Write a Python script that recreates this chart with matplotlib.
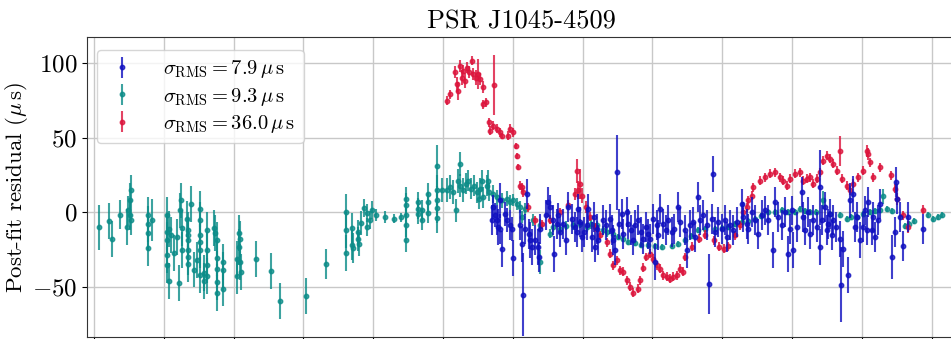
import matplotlib
matplotlib.use("Agg")
import matplotlib.pyplot as plt
import numpy as np

plt.rcParams['font.family'] = 'serif'
plt.rcParams['font.serif'] = ['cmr10']
plt.rcParams['mathtext.fontset'] = 'cm'
plt.rcParams['axes.formatter.use_mathtext'] = True

title = "PSR J1045-4509"
ylabel = r"Post-fit residual ($\mu\,\mathrm{s}$)"
labels = [r"$\sigma_{\rm RMS} = 7.9\,\mu\,\mathrm{s}$",
          r"$\sigma_{\rm RMS} = 9.3\,\mu\,\mathrm{s}$",
          r"$\sigma_{\rm RMS} = 36.0\,\mu\,\mathrm{s}$"]
colors = ['#1010c0', '#0c8c88', '#dc143c']

# ---- teal series (years, residual us, error us)
teal_t = [1994.14, 1994.44, 1994.52, 1994.74, 1994.95, 1994.98, 1995.03, 1995.05, 1995.04, 1995.06,
          1995.56, 1995.56, 1995.56, 1995.56, 1995.65, 1996.10, 1996.10, 1996.10, 1996.10, 1996.10,
          1996.16, 1996.16, 1996.20, 1996.29, 1996.37, 1996.43, 1996.46, 1996.49, 1996.51, 1996.51,
          1996.66, 1996.69, 1996.69, 1996.69, 1996.69, 1996.69, 1996.70, 1996.77, 1996.87, 1996.94,
          1997.04, 1997.04, 1997.04, 1997.04, 1997.04, 1997.04, 1997.15, 1997.15, 1997.25, 1997.25,
          1997.25, 1997.25, 1997.44, 1997.47, 1997.52, 1997.53, 1997.53, 1997.52, 1997.53, 1997.69,
          1997.69, 1997.69, 1998.09, 1998.09, 1998.15, 1998.16, 1998.17, 1998.18, 1998.20, 1998.63,
          1999.07, 1999.34, 2000.08, 2000.64, 2001.23, 2001.23, 2001.23, 2001.40, 2001.40, 2001.42,
          2001.57, 2001.57, 2001.60, 2001.65, 2001.74, 2001.83, 2001.83, 2001.91, 2001.96, 2002.08,
          2002.34, 2002.60, 2002.80, 2002.94, 2002.94, 2002.94, 2002.94, 2002.94, 2003.27, 2003.27,
          2003.27, 2003.41, 2003.41, 2003.56, 2003.56, 2003.57, 2003.82, 2003.82, 2003.82, 2003.82,
          2003.82, 2003.96, 2004.11, 2004.20, 2004.29, 2004.37, 2004.44, 2004.49, 2004.49, 2004.56,
          2004.66, 2004.72, 2004.79, 2004.89, 2004.97, 2005.04, 2005.06, 2005.13, 2005.15, 2005.25,
          2005.30, 2005.33, 2005.44, 2005.54, 2005.68, 2005.83, 2005.92, 2006.01, 2006.11, 2006.21,
          2006.35, 2006.26, 2006.59, 2006.78, 2006.78, 2007.07, 2007.16, 2007.35, 2007.52, 2007.73,
          2007.93, 2008.12, 2008.24, 2008.40, 2008.59, 2008.69, 2008.88, 2009.01, 2009.16, 2009.30,
          2009.50, 2009.67, 2009.87, 2010.07, 2010.27, 2010.56, 2010.73, 2010.93, 2011.11, 2011.31,
          2011.51, 2011.79, 2011.99, 2012.17, 2012.37, 2012.57, 2012.74, 2012.94, 2013.11, 2013.31,
          2013.51, 2013.71, 2013.88, 2014.09, 2014.23, 2014.37, 2014.52, 2014.69, 2014.89, 2015.09,
          2015.38, 2015.57, 2015.69, 2015.85, 2016.03, 2016.23, 2016.38, 2016.52, 2016.62, 2016.71,
          2016.87, 2017.24, 2017.35, 2017.50, 2017.91, 2018.05, 2018.19, 2018.29]
teal_r = [-9.8, -6.0, -17.5, -1.4, -9.8, 1.3, 8.0, 14.7, -2.0, -5.3,
          -2.0, -7.6, -13.8, -23.8, -4.9, -2.0, -13.3, -18.7, -28.7, -34.9,
          -10.9, -46.0, -15.3, -27.0, -16.4, -47.0, 1.3, 8.0, -10.2, -25.3,
          -4.2, -12.0, -18.7, -25.3, -29.8, -34.7, -15.3, 5.8, -38.2, -32.0,
          2.4, -5.3, -15.3, -19.8, -25.3, -42.0, -40.4, -46.0, -12.0, -24.9,
          -34.9, -42.7, -10.2, -13.8, -18.2, -30.2, -37.6, -46.4, -53.8, -33.1,
          -38.7, -50.9, -30.9, -42.7, -23.1, -13.8, -17.6, -33.1, -39.8, -31.3,
          -39.1, -59.1, -56.0, -34.2, 0.2, -12.0, -26.9, -10.2, -22.0, -23.8,
          -13.1, -17.6, -21.3, -7.1, 2.9, -0.4, -9.8, -5.3, 1.8, -2.0,
          -3.1, -4.2, -3.1, 9.1, 4.7, -2.0, -8.7, -18.7, 6.9, 2.4,
          -0.9, 1.3, -4.9, 12.4, 6.9, -0.4, 31.3, 14.7, 8.0, 3.1,
          -3.6, 14.7, 14.7, 16.9, 13.6, 1.3, 21.3, 32.4, 18.0, 14.7,
          19.1, 21.3, 15.8, 18.0, 13.6, 9.1, 15.8, 21.3, 10.2, 18.0,
          21.3, 13.6, 12.4, 10.2, 8.0, 9.1, 6.9, 8.0, 5.8, 3.6,
          2.4, -3.1, -5.3, -8.7, -33.1, -14.2, -9.8, -10.9, -9.0, -8.7,
          -7.6, -9.8, -8.0, -8.7, -12.0, -13.1, -14.2, -16.4, -18.0, -19.5,
          -20.7, -21.5, -22.0, -22.7, -23.0, -22.7, -21.0, -18.7, -15.5, -12.0,
          -11.0, -10.9, -10.5, -9.5, -8.0, -6.4, -5.5, -4.2, -2.5, 0.2,
          0.5, 1.3, 0.5, 0.0, 2.4, 1.0, 0.2, 0.5, 8.0, -1.0,
          -2.0, -4.2, -3.0, -3.1, -1.0, 0.2, 1.0, 1.3, 10.7, 2.4,
          1.0, -9.3, -8.0, -5.8, -1.6, -4.2, -3.1, -2.0]
teal_e = [15, 12, 12, 10, 12, 10, 12, 10, 10, 10,
          12, 12, 12, 12, 14, 12, 12, 12, 12, 12,
          12, 12, 12, 12, 12, 12, 12, 12, 12, 12,
          12, 12, 12, 12, 12, 12, 12, 12, 12, 12,
          12, 12, 12, 12, 12, 12, 12, 12, 12, 12,
          12, 12, 12, 12, 12, 12, 12, 12, 12, 12,
          12, 12, 12, 12, 12, 12, 12, 12, 12, 12,
          12, 12, 12, 10, 12, 12, 12, 10, 10, 10,
          8, 8, 8, 8, 6, 6, 6, 6, 6, 4,
          4, 3, 3, 8, 8, 8, 8, 8, 7, 7,
          7, 7, 7, 7, 7, 7, 14, 10, 10, 10,
          10, 8, 8, 8, 8, 8, 8, 8, 8, 8,
          7, 7, 7, 7, 7, 7, 7, 7, 7, 7,
          7, 6, 6, 5, 5, 5, 5, 4, 4, 4,
          4, 4, 4, 4, 8, 3, 3, 3, 3, 3,
          3, 3, 3, 3, 3, 3, 3, 2, 2, 2,
          2, 2, 2, 2, 2, 2, 2, 2, 2, 2,
          2, 2, 2, 2, 2, 2, 2, 2, 2, 2,
          2, 2, 2, 2, 2, 2, 2, 2, 6, 2,
          2, 2, 2, 2, 2, 2, 2, 2, 5, 2,
          2, 2, 2, 2, 2, 2, 2, 2]

# ---- red series
red_t = [2004.11, 2004.20, 2004.34, 2004.39, 2004.44, 2004.49, 2004.54, 2004.58, 2004.63, 2004.68,
         2004.75, 2004.82, 2004.87, 2004.95, 2005.01, 2005.06, 2005.14, 2005.15, 2005.23, 2005.46,
         2005.33, 2005.35, 2005.44, 2005.54, 2005.63, 2005.68, 2005.87, 2005.92, 2006.01, 2006.09,
         2006.11, 2006.16, 2006.21, 2006.26, 2006.30, 2006.44, 2006.64, 2006.84, 2007.07, 2007.35,
         2007.58, 2007.78, 2007.83, 2007.88, 2007.93, 2007.97, 2008.10, 2008.21, 2008.35, 2008.50,
         2008.69, 2008.79, 2008.88, 2008.98, 2009.07, 2009.17, 2009.26, 2009.36, 2009.45, 2009.58,
         2009.64, 2009.74, 2009.83, 2009.93, 2010.03, 2010.12, 2010.22, 2010.31, 2010.41, 2010.50,
         2010.60, 2010.70, 2010.79, 2010.89, 2010.93, 2011.13, 2011.33, 2011.50, 2011.76, 2011.91,
         2012.05, 2012.17, 2012.37, 2012.51, 2012.60, 2012.70, 2012.74, 2012.84, 2012.89, 2013.08,
         2013.22, 2013.37, 2013.51, 2013.66, 2013.75, 2013.85, 2013.94, 2014.09, 2014.23, 2014.32,
         2014.42, 2014.52, 2014.61, 2014.71, 2014.80, 2014.90, 2014.99, 2015.09, 2015.18, 2015.28,
         2015.38, 2015.42, 2015.57, 2015.66, 2015.76, 2015.90, 2016.04, 2016.14, 2016.19, 2016.23,
         2016.33, 2016.52, 2016.85, 2016.95, 2017.00, 2017.19, 2017.33, 2017.74]
red_r = [74.7, 79.1, 93.6, 85.8, 81.3, 98.0, 90.2, 94.7, 88.0, 96.9,
         93.6, 101.3, 92.4, 90.2, 92.4, 89.1, 83.6, 72.4, 73.6, 85.1,
         60.2, 54.7, 58.0, 55.8, 53.6, 51.3, 51.3, 55.8, 53.6, 44.4,
         38.0, 30.2, 18.0, 16.9, 13.6, 3.6, -5.3, -8.0, -5.0, 0.2,
         5.0, 12.4, 28.0, 14.7, 19.1, 11.3, 3.6, -3.0, -9.8, -15.3,
         -19.8, -27.6, -35.3, -32.0, -38.7, -39.8, -45.3, -49.8, -53.8, -50.9,
         -45.3, -37.1, -29.8, -27.6, -30.9, -35.3, -37.6, -42.0, -43.1, -44.2,
         -43.1, -42.0, -37.6, -39.8, -29.8, -23.1, -17.6, -15.0, -18.7, -23.1,
         -24.2, -22.5, -15.3, -8.7, 0.2, 3.6, 8.0, 11.3, 16.9, 21.3,
         23.6, 25.8, 26.9, 23.6, 21.3, 18.0, 22.4, 25.8, 26.9, 21.3,
         22.4, 23.6, 19.1, 22.4, 26.9, 34.7, 38.0, 35.8, 32.4, 28.0,
         41.3, 22.4, 18.0, 14.7, 19.1, 23.6, 28.0, 41.3, 39.1, 33.6,
         23.6, 30.2, 24.7, 15.8, 9.1, -2.0, -9.8, 1.8]
red_e = [3, 3, 4, 5, 6, 4, 5, 4, 5, 4,
         4, 3, 4, 5, 10, 4, 4, 3, 3, 20,
         3, 3, 3, 3, 3, 2, 3, 3, 3, 2,
         2, 2, 3, 3, 3, 3, 3, 3, 3, 3,
         3, 4, 8, 6, 10, 5, 4, 3, 3, 3,
         3, 3, 3, 3, 3, 3, 3, 3, 3, 3,
         3, 3, 3, 3, 3, 3, 3, 3, 3, 3,
         3, 3, 3, 3, 3, 3, 3, 3, 3, 3,
         3, 3, 3, 3, 3, 3, 3, 3, 3, 3,
         3, 3, 3, 3, 3, 3, 3, 3, 3, 3,
         3, 3, 3, 3, 3, 3, 3, 3, 3, 3,
         10, 3, 3, 3, 3, 3, 3, 4, 4, 3,
         3, 3, 3, 3, 4, 3, 4, 3]

# ---- blue series
blue_t = [2005.39, 2005.44, 2005.49, 2005.54, 2005.58, 2005.63, 2005.64, 2005.68, 2005.78, 2005.83,
          2005.92, 2005.97, 2006.01, 2006.21, 2006.26, 2006.30, 2006.35, 2006.42, 2006.45, 2006.49,
          2006.54, 2006.64, 2006.71, 2006.74, 2006.78, 2006.95, 2007.02, 2007.07, 2007.14, 2007.18,
          2007.26, 2007.30, 2007.35, 2007.45, 2007.52, 2007.59, 2007.69, 2007.78, 2007.83, 2007.88,
          2007.93, 2007.97, 2008.04, 2008.12, 2008.16, 2008.26, 2008.33, 2008.36, 2008.40, 2008.45,
          2008.59, 2008.67, 2008.79, 2008.83, 2008.88, 2008.93, 2008.98, 2009.03, 2009.12, 2009.17,
          2009.26, 2009.31, 2009.40, 2009.45, 2009.50, 2009.60, 2009.67, 2009.74, 2009.83, 2009.88,
          2009.93, 2010.03, 2010.07, 2010.12, 2010.17, 2010.22, 2010.31, 2010.38, 2010.46, 2010.55,
          2010.63, 2010.74, 2010.79, 2010.93, 2010.98, 2011.07, 2011.17, 2011.22, 2011.31, 2011.36,
          2011.46, 2011.56, 2011.63, 2011.70, 2011.74, 2011.79, 2011.89, 2011.99, 2012.08, 2012.13,
          2012.23, 2012.32, 2012.42, 2012.56, 2012.60, 2012.70, 2012.75, 2012.84, 2012.94, 2013.03,
          2013.13, 2013.22, 2013.32, 2013.46, 2013.51, 2013.61, 2013.70, 2013.80, 2013.89, 2013.94,
          2013.99, 2014.04, 2014.13, 2014.28, 2014.32, 2014.37, 2014.47, 2014.52, 2014.61, 2014.71,
          2014.80, 2014.81, 2014.85, 2014.95, 2014.99, 2015.04, 2015.09, 2015.14, 2015.18, 2015.26,
          2015.38, 2015.40, 2015.45, 2015.61, 2015.66, 2015.76, 2015.80, 2015.85, 2015.95, 2016.04,
          2016.09, 2016.14, 2016.19, 2016.28, 2016.33, 2016.38, 2016.47, 2016.52, 2016.86, 2016.95,
          2016.98, 2017.00, 2017.09, 2017.19, 2017.33, 2017.74]
blue_r = [-5.3, 3.6, -2.0, -5.3, -9.8, 8.0, -10.9, -24.2, -0.9, -5.3,
          -8.7, -11.0, -30.4, -8.7, -20.9, -54.9, -10.9, 12.4, -14.2, -18.7,
          -23.1, -18.7, -23.1, -29.8, -10.9, -2.0, 6.9, 3.6, -5.3, -27.6,
          -7.6, -2.0, -13.1, -7.6, -18.7, 3.6, -4.2, -9.8, -13.0, 2.4,
          -6.4, -16.4, -13.1, -8.7, 2.4, -16.4, -3.1, -23.1, -10.9, -18.7,
          -5.3, -8.7, -4.2, -12.0, -18.7, -25.3, 26.9, -7.6, -1.0, -14.2,
          0.2, -7.6, -12.0, -18.7, -8.7, -5.3, -13.1, -17.6, -9.8, -14.2,
          -17.6, -4.2, -33.1, -8.7, -15.3, 2.4, -7.6, -12.0, -5.3, -13.1,
          -10.9, 3.6, -6.4, -12.0, -25.3, -8.7, -6.4, -16.4, 10.2, -5.3,
          -2.0, -8.7, -48.0, -4.2, 25.8, -13.1, -6.4, -10.9, -5.3, -16.4,
          -8.7, -12.0, -6.4, 5.8, -3.1, -7.6, -10.9, 0.2, -5.3, -14.2,
          -2.0, 1.3, -5.3, -24.9, 6.9, -3.1, -8.7, 0.2, -27.6, -10.9,
          1.3, -25.3, -9.8, 13.6, -3.1, -12.0, 0.2, -14.2, -5.3, -9.8,
          16.9, -23.1, -5.3, 3.6, -12.0, -7.6, -0.9, -15.3, -5.3, -9.8,
          -17.6, -48.2, -24.2, -42.0, 8.0, 12.4, -9.8, -3.1, -18.7, -9.8,
          1.3, -12.0, 6.9, -12.0, -3.1, -16.4, -5.3, 5.8, -29.8, -13.1,
          20.2, 9.1, -3.1, -22.7, -3.1, -10.9]
blue_e = [10, 8, 8, 10, 12, 12, 10, 12, 8, 8,
          10, 8, 12, 10, 12, 28, 10, 10, 10, 12,
          12, 10, 12, 10, 10, 10, 10, 8, 10, 12,
          10, 8, 10, 10, 10, 10, 10, 10, 10, 10,
          10, 10, 10, 10, 10, 10, 10, 10, 10, 10,
          10, 10, 10, 10, 10, 10, 25, 10, 10, 10,
          10, 10, 10, 10, 10, 10, 10, 10, 10, 10,
          10, 10, 12, 10, 10, 10, 10, 10, 10, 10,
          10, 10, 10, 10, 12, 10, 10, 10, 10, 10,
          10, 10, 20, 10, 12, 10, 10, 10, 10, 10,
          10, 10, 10, 10, 10, 10, 10, 10, 10, 10,
          10, 10, 10, 12, 10, 10, 10, 10, 12, 10,
          10, 12, 10, 10, 10, 10, 10, 10, 10, 10,
          25, 12, 10, 10, 10, 10, 10, 10, 10, 10,
          12, 25, 12, 12, 12, 12, 10, 10, 12, 10,
          10, 10, 10, 10, 10, 10, 10, 10, 15, 10,
          10, 10, 10, 10, 10, 10]

xticks = list(range(1994, 2019, 2))
yticks = [-50, 0, 50, 100]

fig = plt.figure(figsize=(9.51, 3.39), dpi=100)
ax = fig.add_axes([87/951, 2/339, 868/951, 300/339])

kw = dict(fmt='o', markersize=3.2, elinewidth=1.5, capsize=0, alpha=0.8)
h_teal = ax.errorbar(teal_t, teal_r, yerr=teal_e, color=colors[1], zorder=2, **kw)
h_red = ax.errorbar(red_t, red_r, yerr=red_e, color=colors[2], zorder=3, **kw)
h_blue = ax.errorbar(blue_t, blue_r, yerr=blue_e, color=colors[0], zorder=4, **kw)

ax.set_xlim(1993.80, 2018.67)
ax.set_ylim(-83.3, 117.3)
ax.set_xticks(xticks)
ax.set_yticks(yticks)
ax.tick_params(axis='both', labelsize=18)
ax.tick_params(axis='x', labelbottom=False)
ax.grid(True, color='#c8c8c8', linewidth=1.0)
ax.set_axisbelow(True)
ax.set_title(title, fontsize=19, pad=6)
ax.set_ylabel(ylabel, fontsize=16.5, labelpad=1)
for s in ax.spines.values():
    s.set_color('#333333')

ax.legend([h_blue, h_teal, h_red], labels, loc='upper left', fontsize=14.8,
          frameon=True, borderpad=0.4, labelspacing=0.25, handletextpad=1.2,
          handlelength=1.6, bbox_to_anchor=(0.0, 0.99))

fig.savefig('out.png', dpi=100)
